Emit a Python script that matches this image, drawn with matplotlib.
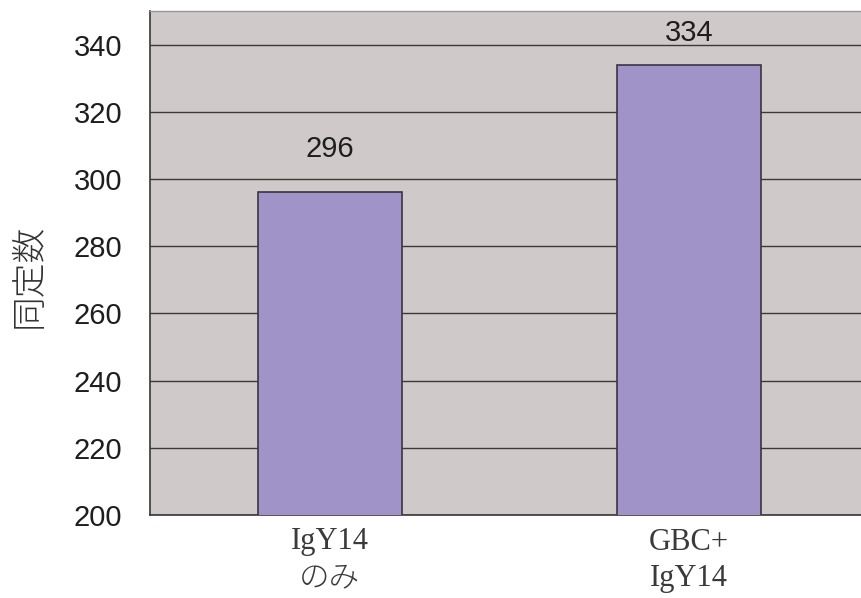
import matplotlib
matplotlib.use("Agg")
import matplotlib.pyplot as plt

categories = ["IgY14\nのみ", "GBC+\nIgY14"]
counts = [296, 334]
label_offsets_px = [29, 18]
yticks = [200, 220, 240, 260, 280, 300, 320, 340]

num_font = ["Liberation Sans Narrow", "Liberation Sans", "DejaVu Sans"]

fig = plt.figure(figsize=(8.61, 5.98), dpi=100)
ax = fig.add_axes([150 / 861, 83 / 598, 719 / 861, 504 / 598])

ax.set_facecolor("#cfcac9")
x = range(len(categories))
bars = ax.bar(x, counts, width=0.4, color="#9f93c8", edgecolor="#3a3540",
              linewidth=1.2, zorder=3)

ax.set_ylim(200, 350)
ax.set_xlim(-0.5, 1.5)
ax.set_yticks(yticks)
ax.yaxis.grid(True, color="#3c3838", linewidth=1.0, zorder=1)
ax.set_axisbelow(True)
ax.tick_params(axis="y", length=0, pad=20, labelsize=21)
ax.tick_params(axis="x", length=0, pad=9)
for lab in ax.get_yticklabels():
    lab.set_fontfamily(num_font)
    lab.set_color("#1e1e1e")

ax.set_xticks(list(x))
ax.set_xticklabels(categories, fontsize=22, color="#3a3a3a",
                   family=["Liberation Serif", "Noto Sans CJK JP"],
                   linespacing=1.35, fontweight="light")

for spine in ["left", "bottom"]:
    ax.spines[spine].set_color("#3a3636")
    ax.spines[spine].set_linewidth(1.2)
ax.spines["top"].set_color("#9a9696")
ax.spines["top"].set_linewidth(1.0)
ax.spines["right"].set_visible(False)

for rect, val, off in zip(bars, counts, label_offsets_px):
    ax.annotate(f"{val}", xy=(rect.get_x() + rect.get_width() / 2, val),
                xytext=(0, off), textcoords="offset pixels",
                ha="center", va="bottom", fontsize=21, color="#1e1e1e",
                family=num_font, zorder=4)

fig.text(29 / 861, 1 - 276 / 598, "同定数", rotation=90, ha="center", va="center",
         fontsize=25, color="#333333", family=["Noto Sans CJK JP", "DejaVu Sans"],
         fontweight="light")

fig.savefig("out.png", dpi=100)
